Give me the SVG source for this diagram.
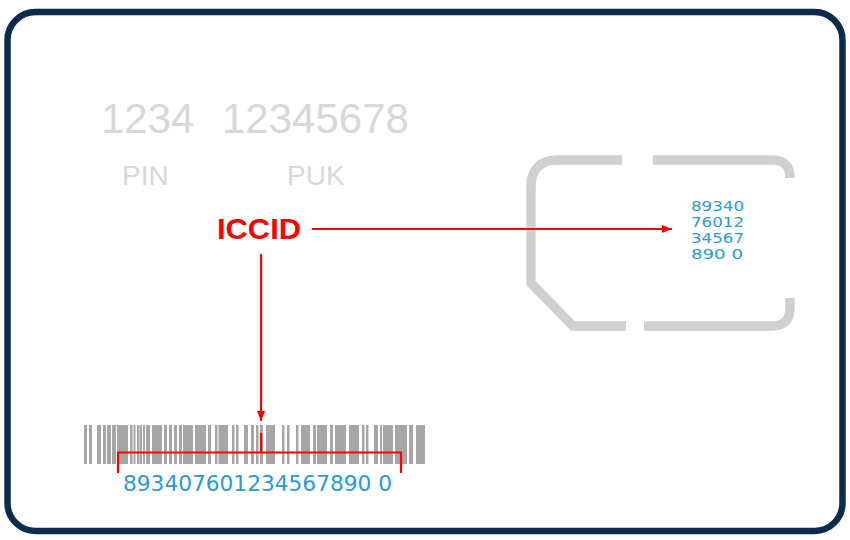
<svg xmlns="http://www.w3.org/2000/svg" width="850" height="540" viewBox="0 0 850 540">
<defs>
<style>
.gray{font-family:"Liberation Sans",Arial,sans-serif;fill:#d8d8d8}
.blue{font-family:"DejaVu Sans","Noto Sans",sans-serif;fill:#2a9ad5}
.red{stroke:#ff0000;stroke-width:2.2;fill:none}
.bar{fill:#a6a6a6}
</style>
<marker id="ah" viewBox="0 0 10 10" refX="10" refY="5" markerWidth="10" markerHeight="10" markerUnits="userSpaceOnUse" orient="auto">
<path d="M0,1 L10,5 L0,9 Z" fill="#ff0000"/>
</marker>
</defs>
<rect width="850" height="540" fill="#ffffff"/>
<g id="card">
<rect x="7.5" y="12" width="835" height="519" rx="28" ry="28" fill="#ffffff" stroke="#0c2b4f" stroke-width="6.5"/>
</g>
<g id="pin-puk">
<text class="gray" x="101" y="133" font-size="42">1234</text>
<text class="gray" x="222" y="133" font-size="42">12345678</text>
<text class="gray" x="122" y="185" font-size="28">PIN</text>
<text class="gray" x="287" y="185" font-size="28">PUK</text>
</g>
<g id="sim-chip" fill="none" stroke="#d0d0d0" stroke-width="9.5">
<path d="M622,160 L558,160 Q531,160 531,187 L531,283 L573,326 L626,326"/>
<path d="M653,160 L772,160 Q790,160 790,178"/>
<path d="M790,298 L790,308 Q790,326 772,326 L644,326"/>
</g>
<g id="chip-number" class="blue" font-size="14.5">
<text x="691" y="211" textLength="53" lengthAdjust="spacingAndGlyphs">89340</text>
<text x="691" y="227" textLength="53" lengthAdjust="spacingAndGlyphs">76012</text>
<text x="691" y="243" textLength="53" lengthAdjust="spacingAndGlyphs">34567</text>
<text x="691" y="259" textLength="52" lengthAdjust="spacingAndGlyphs">890 0</text>
</g>
<g id="barcode" class="bar">
<rect x="84" y="425" width="3" height="39"/><rect x="89" y="425" width="3" height="39"/><rect x="97" y="425" width="4" height="39"/>
<rect x="103" y="425" width="3" height="39"/><rect x="107" y="425" width="4" height="39"/><rect x="112" y="425" width="4" height="39"/>
<rect x="117" y="425" width="11" height="39"/><rect x="130" y="425" width="2.5" height="39"/><rect x="133.5" y="425" width="2" height="39"/>
<rect x="137" y="425" width="2" height="39"/><rect x="139.5" y="425" width="2.5" height="39"/><rect x="143" y="425" width="2" height="39"/>
<rect x="146" y="425" width="4" height="39"/><rect x="152" y="425" width="10" height="39"/><rect x="164" y="425" width="3" height="39"/>
<rect x="169" y="425" width="3" height="39"/><rect x="174" y="425" width="3" height="39"/><rect x="179" y="425" width="3" height="39"/>
<rect x="183" y="425" width="10" height="39"/><rect x="195" y="425" width="11" height="39"/><rect x="208" y="425" width="3" height="39"/>
<rect x="215" y="425" width="2.5" height="39"/><rect x="218.5" y="425" width="9.5" height="39"/><rect x="232" y="425" width="2.5" height="39"/>
<rect x="236" y="425" width="2.5" height="39"/><rect x="244" y="425" width="4" height="39"/><rect x="251" y="425" width="3" height="39"/>
<rect x="256" y="425" width="2.5" height="39"/><rect x="260" y="425" width="3" height="39"/><rect x="266" y="425" width="9" height="39"/>
<rect x="282" y="425" width="2.5" height="39"/><rect x="287" y="425" width="2.5" height="39"/><rect x="296" y="425" width="2.5" height="39"/>
<rect x="301" y="425" width="9" height="39"/><rect x="313" y="425" width="3" height="39"/><rect x="317" y="425" width="10" height="39"/>
<rect x="330" y="425" width="3" height="39"/><rect x="335" y="425" width="11" height="39"/><rect x="349" y="425" width="10" height="39"/>
<rect x="362" y="425" width="2.5" height="39"/><rect x="366" y="425" width="2.5" height="39"/><rect x="374" y="425" width="4" height="39"/>
<rect x="380" y="425" width="2" height="39"/><rect x="383" y="425" width="10" height="39"/><rect x="395" y="425" width="12" height="39"/>
<rect x="409" y="425" width="4" height="39"/><rect x="416" y="425" width="9" height="39"/>
</g>
<g id="barcode-number">
<text class="blue" x="123" y="491" font-size="22" textLength="269" lengthAdjust="spacingAndGlyphs">893407601234567890 0</text>
</g>
<g id="iccid-label">
<text x="217" y="239" font-family="Liberation Sans,Arial,sans-serif" font-weight="bold" font-size="30" fill="#ff0000" textLength="84" lengthAdjust="spacingAndGlyphs">ICCID</text>
</g>
<g id="connectors">
<line class="red" x1="312" y1="229" x2="672" y2="229" marker-end="url(#ah)"/>
<line class="red" x1="261" y1="254" x2="261" y2="421" marker-end="url(#ah)"/>
<path class="red" d="M118,473 L118,452.5 L401,452.5 L401,473"/>
<line class="red" x1="261" y1="433" x2="261" y2="452.5" stroke-width="3"/>
</g>
</svg>
